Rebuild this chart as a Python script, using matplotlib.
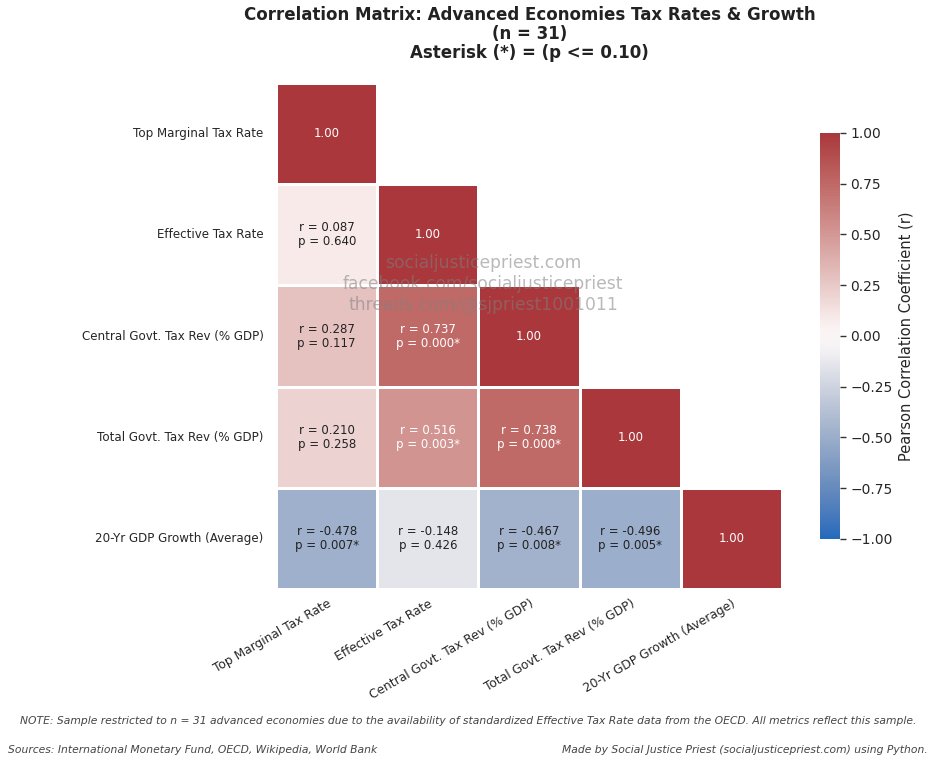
import numpy as np
import matplotlib
matplotlib.use("Agg")
import matplotlib.pyplot as plt
import seaborn as sns

labels = ["Top Marginal Tax Rate", "Effective Tax Rate", "Central Govt. Tax Rev (% GDP)",
          "Total Govt. Tax Rev (% GDP)", "20-Yr GDP Growth (Average)"]

# lower-triangle correlations (row, col)
r_vals = [
    [1.000, 0, 0, 0, 0],
    [0.087, 1.000, 0, 0, 0],
    [0.287, 0.737, 1.000, 0, 0],
    [0.210, 0.516, 0.738, 1.000, 0],
    [-0.478, -0.148, -0.467, -0.496, 1.000],
]
p_vals = [
    [0, 0, 0, 0, 0],
    [0.640, 0, 0, 0, 0],
    [0.117, 0.000, 0, 0, 0],
    [0.258, 0.003, 0.000, 0, 0],
    [0.007, 0.426, 0.008, 0.005, 0],
]
cbar_ticks = [-1, -0.75, -0.5, -0.25, 0, 0.25, 0.5, 0.75, 1.0]

sns.set_theme(style="white")
plt.rcParams['font.family'] = ['DejaVu Sans']

R = np.array(r_vals)
P = np.array(p_vals)
n = len(labels)
full = R + np.tril(R, -1).T
mask = np.triu(np.ones_like(full, dtype=bool), k=1)

fig = plt.figure(figsize=(9.36, 7.65), dpi=100)
ax = fig.add_axes([0.295, 0.23, 0.5405, 0.6615])
cax = fig.add_axes([0.876, 0.2955, 0.0215, 0.531])

sns.heatmap(full, mask=mask, cmap="vlag", vmin=-1, vmax=1, square=False,
            linewidths=2, linecolor="white", ax=ax, cbar_ax=cax,
            xticklabels=labels, yticklabels=labels)

for i in range(n):
    for j in range(i + 1):
        if i == j:
            txt = "1.00"
        else:
            star = "*" if P[i, j] <= 0.10 else ""
            txt = f"r = {R[i, j]:.3f}\np = {P[i, j]:.3f}{star}"
        col = "white" if abs(R[i, j]) > 0.5 else "#222222"
        ax.text(j + 0.5, i + 0.5, txt, ha="center", va="center",
                fontsize=8.5, color=col, linespacing=1.1)

ax.tick_params(axis="both", length=0)
ax.tick_params(axis="y", labelsize=8.6, pad=9)
ax.tick_params(axis="x", labelsize=8.8, pad=6)
plt.setp(ax.get_xticklabels(), rotation=30, ha="right", rotation_mode="anchor")
plt.setp(ax.get_yticklabels(), rotation=0)

cax.tick_params(labelsize=10, length=4, width=1, color="#333333", left=False, right=True)
cax.set_yticks(cbar_ticks)
cax.set_yticklabels([f"{v:.2f}".replace("-", "\u2212") for v in cbar_ticks])
cax.set_ylabel("Pearson Correlation Coefficient (r)", fontsize=10.5)

fig.text(0.566, 0.992, "Correlation Matrix: Advanced Economies Tax Rates & Growth\n(n = 31)\nAsterisk (*) = (p <= 0.10)",
         ha="center", va="top", fontsize=12, fontweight="bold", color="#222222", linespacing=1.08)

fig.text(0.516, 0.629, "socialjusticepriest.com\nfacebook.com/socialjusticepriest\nthreads.com/@sjpriest1001011",
         ha="center", va="center", fontsize=12.3, color="gray", alpha=0.55, linespacing=1.2)

fig.text(0.5, 0.057, "NOTE: Sample restricted to n = 31 advanced economies due to the availability of standardized Effective Tax Rate data from the OECD. All metrics reflect this sample.",
         ha="center", va="center", fontsize=7.75, style="italic", color="#444444")
fig.text(0.009, 0.019, "Sources: International Monetary Fund, OECD, Wikipedia, World Bank",
         ha="left", va="center", fontsize=7.75, style="italic", color="#444444")
fig.text(0.991, 0.019, "Made by Social Justice Priest (socialjusticepriest.com) using Python.",
         ha="right", va="center", fontsize=7.75, style="italic", color="#444444")

fig.savefig("out.png", dpi=100)
